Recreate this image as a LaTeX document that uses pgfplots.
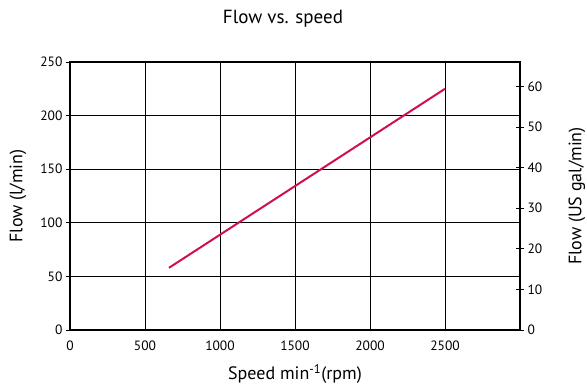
\documentclass[border=0pt]{standalone}
\usepackage{pgfplots}
\pgfplotsset{compat=1.18}
\usepackage{fontspec}
\setmainfont{PT Sans}
\definecolor{flowred}{HTML}{D0104C}
\begin{document}
\begin{tikzpicture}
\pgfplotsset{every axis/.append style={
  scale only axis, width=450pt, height=268pt,
  xmin=0, xmax=3000,
  /pgf/number format/assume math mode=true,
  /pgf/number format/1000 sep={},
  scaled ticks=false,
  tick label style={font=\fontsize{13.5}{15}\selectfont},
  label style={font=\fontsize{18}{20}\selectfont},
  axis line style={line width=1.6pt},
}}
\begin{axis}[name=main,
  ymin=0, ymax=250,
  xtick={0,500,...,2500}, ytick={0,50,...,250},
  grid=major, major grid style={black, line width=0.9pt},
  xtick style={draw=none},
  ytick pos=left, ytick align=outside,
  major tick length=4pt,
  ytick style={black, line width=0.9pt},
  xticklabel style={yshift=-7pt},
  xlabel={Speed min\textsuperscript{-1}(rpm)},
  ylabel={Flow (l/min)},
  xlabel style={at={(axis description cs:0.5,0)}, anchor=north, yshift=-31pt},
  ylabel style={at={(axis description cs:-0.089,0.5)}, anchor=south, rotate=0},
  title={Flow vs. speed},
  title style={font=\fontsize{19}{21}\selectfont, at={(axis description cs:0.4733,1)}, anchor=south, yshift=25pt},
]
\addplot[flowred, line width=2pt] coordinates {(660,58) (2500,225)};
\coordinate (O) at (rel axis cs:0,0);
\end{axis}
\begin{axis}[
  ymin=0, ymax=66.05,
  axis x line=none, axis y line*=right,
  ytick={0,10,...,60},
  tick align=center, major tick length=8pt,
  ytick style={black, line width=0.9pt},
  ylabel={Flow (US gal/min)},
  ylabel style={at={(axis description cs:1.1,0.5)}, anchor=north},
]
\end{axis}
\pgfresetboundingbox
\path[use as bounding box] ([shift={(-70pt,-55pt)}]O) rectangle ++(587pt,385pt);
\end{tikzpicture}
\end{document}
